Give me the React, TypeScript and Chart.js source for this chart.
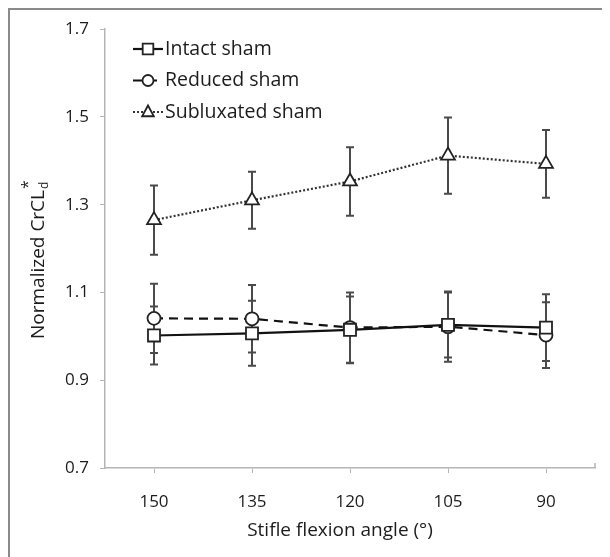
import React, { useEffect, useRef } from "react";
import { Chart, registerables } from "chart.js";

Chart.register(...registerables);

const categories = ["150", "135", "120", "105", "90"];
const intactMean = [1.002, 1.007, 1.015, 1.026, 1.02];
const intactErr = [0.066, 0.074, 0.076, 0.074, 0.076];
const reducedMean = [1.041, 1.04, 1.02, 1.022, 1.003];
const reducedErr = [0.079, 0.077, 0.08, 0.08, 0.075];
const subluxMean = [1.265, 1.31, 1.353, 1.412, 1.393];
const subluxErr = [0.079, 0.065, 0.078, 0.087, 0.077];
const yTicks = [0.7, 0.9, 1.1, 1.3, 1.5, 1.7];
const seriesNames = ["Intact sham", "Reduced sham", "Subluxated sham"];

const FONT = "'Open Sans', 'Liberation Sans', sans-serif";
const TEXT = "#1c1c1c";

function drawMarker(ctx: CanvasRenderingContext2D, style: string, x: number, y: number, r: number) {
  ctx.beginPath();
  if (style === "rect") {
    const s = r * Math.SQRT1_2;
    ctx.rect(x - s, y - s, 2 * s, 2 * s);
  } else if (style === "circle") {
    ctx.arc(x, y, r, 0, Math.PI * 2);
  } else {
    const h = r;
    ctx.moveTo(x, y - h);
    ctx.lineTo(x + h * 0.9, y + h * 0.5 + 1);
    ctx.lineTo(x - h * 0.9, y + h * 0.5 + 1);
    ctx.closePath();
  }
  ctx.fillStyle = "#ffffff";
  ctx.fill();
  ctx.setLineDash([]);
  ctx.lineWidth = 1.8;
  ctx.strokeStyle = "#222";
  ctx.stroke();
}

const framePlugin = {
  id: "outerFrame",
  beforeDraw(chart: any) {
    const ctx = chart.ctx;
    ctx.save();
    ctx.fillStyle = "#ffffff";
    ctx.fillRect(0, 0, chart.width, chart.height);
    ctx.strokeStyle = "#8a8a8a";
    ctx.lineWidth = 2;
    ctx.setLineDash([]);
    ctx.strokeRect(1, 1, 596, 600);
    ctx.restore();
  },
};

const errorBarPlugin = {
  id: "errorBars",
  beforeDatasetsDraw(chart: any) {
    const ctx = chart.ctx;
    const yScale = chart.scales.y;
    ctx.save();
    ctx.strokeStyle = "#4a4a4a";
    ctx.lineWidth = 2;
    ctx.setLineDash([]);
    chart.data.datasets.forEach((ds: any, i: number) => {
      const meta = chart.getDatasetMeta(i);
      meta.data.forEach((pt: any, j: number) => {
        const m = ds.data[j];
        const e = ds.errors[j];
        const x = pt.x;
        const yt = yScale.getPixelForValue(m + e);
        const yb = yScale.getPixelForValue(m - e);
        ctx.beginPath();
        ctx.moveTo(x, yt);
        ctx.lineTo(x, yb);
        ctx.moveTo(x - 4, yt);
        ctx.lineTo(x + 4, yt);
        ctx.moveTo(x - 4, yb);
        ctx.lineTo(x + 4, yb);
        ctx.stroke();
      });
    });
    ctx.restore();
  },
};

const decorPlugin = {
  id: "decor",
  afterDraw(chart: any) {
    const ctx = chart.ctx;
    const area = chart.chartArea;
    ctx.save();
    // small end tick at right end of x axis
    ctx.strokeStyle = "#b5b5b5";
    ctx.lineWidth = 1.5;
    ctx.setLineDash([]);
    ctx.beginPath();
    ctx.moveTo(area.right, area.bottom);
    ctx.lineTo(area.right, area.bottom - 5);
    ctx.stroke();
    // legend
    chart.data.datasets.forEach((ds: any, i: number) => {
      const y = 41 + i * 31.5;
      ctx.beginPath();
      ctx.setLineDash(ds.borderDash || []);
      ctx.lineWidth = ds.borderWidth;
      ctx.strokeStyle = ds.borderColor;
      ctx.moveTo(125, y);
      ctx.lineTo(155, y);
      ctx.stroke();
      drawMarker(ctx, ds.pointStyle, 140, y, ds.pointStyle === "circle" ? 5.5 : ds.pointStyle === "rect" ? 7.5 : 6.5);
      ctx.fillStyle = TEXT;
      ctx.font = `19.5px ${FONT}`;
      ctx.textAlign = "left";
      ctx.textBaseline = "middle";
      ctx.fillText(ds.label, 157, y);
    });
    // x title
    ctx.fillStyle = TEXT;
    ctx.font = `19px ${FONT}`;
    ctx.textAlign = "center";
    ctx.textBaseline = "middle";
    ctx.fillText("Stifle flexion angle (\u00B0)", 332, 523);
    // y title with sub/superscript
    const main = "Normalized CrCL";
    ctx.font = `19px ${FONT}`;
    const wMain = ctx.measureText(main).width;
    ctx.translate(36, 331);
    ctx.rotate(-Math.PI / 2);
    ctx.textAlign = "left";
    ctx.textBaseline = "alphabetic";
    ctx.fillText(main, 0, 0);
    ctx.font = `12px ${FONT}`;
    ctx.fillText("d", wMain + 1, 4);
    ctx.font = `16px ${FONT}`;
    ctx.fillText("*", wMain + 1, -11);
    ctx.restore();
  },
};

export default function App() {
  const canvasRef = useRef<HTMLCanvasElement | null>(null);

  useEffect(() => {
    if (!canvasRef.current) return;
    const chart = new Chart(canvasRef.current, {
      type: "line",
      data: {
        labels: categories,
        datasets: [
          {
            label: seriesNames[0],
            data: intactMean,
            errors: intactErr,
            borderColor: "#111",
            borderWidth: 2.2,
            borderDash: [],
            pointStyle: "rect",
            pointRadius: 8.5,
            pointBackgroundColor: "#fff",
            pointBorderColor: "#222",
            pointBorderWidth: 1.8,
            tension: 0,
          } as any,
          {
            label: seriesNames[1],
            data: reducedMean,
            errors: reducedErr,
            borderColor: "#111",
            borderWidth: 2.2,
            borderDash: [9, 6],
            pointStyle: "circle",
            pointRadius: 6.5,
            pointBackgroundColor: "#fff",
            pointBorderColor: "#222",
            pointBorderWidth: 1.8,
            tension: 0,
          } as any,
          {
            label: seriesNames[2],
            data: subluxMean,
            errors: subluxErr,
            borderColor: "#333",
            borderWidth: 2.2,
            borderDash: [2, 2],
            pointStyle: "triangle",
            pointRadius: 8,
            pointBackgroundColor: "#fff",
            pointBorderColor: "#222",
            pointBorderWidth: 1.8,
            tension: 0,
          } as any,
        ],
      },
      options: {
        responsive: false,
        animation: false,
        layout: { padding: { left: 0, top: 21, right: 15, bottom: 0 } },
        plugins: {
          legend: { display: false },
          tooltip: { enabled: false },
        },
        scales: {
          x: {
            type: "category",
            offset: true,
            afterFit: (s: any) => {
              s.height = 89;
            },
            grid: {
              offset: false,
              drawOnChartArea: false,
              drawTicks: true,
              tickLength: 5,
              color: "#b5b5b5",
            },
            border: { color: "#b5b5b5", width: 1.5 },
            ticks: {
              color: TEXT,
              font: { family: FONT, size: 17 },
              padding: 19,
            },
          },
          y: {
            min: 0.7,
            max: 1.7,
            afterFit: (s: any) => {
              s.width = 97;
            },
            afterBuildTicks: (s: any) => {
              s.ticks = yTicks.map((v) => ({ value: v }));
            },
            grid: {
              drawOnChartArea: false,
              drawTicks: true,
              tickLength: 5,
              color: "#b5b5b5",
            },
            border: { color: "#b5b5b5", width: 1.5 },
            ticks: {
              color: TEXT,
              font: { family: FONT, size: 17 },
              padding: 11,
              callback: (v: any) => Number(v).toFixed(1),
            },
          },
        },
      } as any,
      plugins: [framePlugin, errorBarPlugin, decorPlugin],
    });
    return () => chart.destroy();
  }, []);

  return (
    <div style={{ width: 602, height: 549, overflow: "hidden" }}>
      <canvas ref={canvasRef} width={602} height={549} style={{ display: "block" }} />
    </div>
  );
}
